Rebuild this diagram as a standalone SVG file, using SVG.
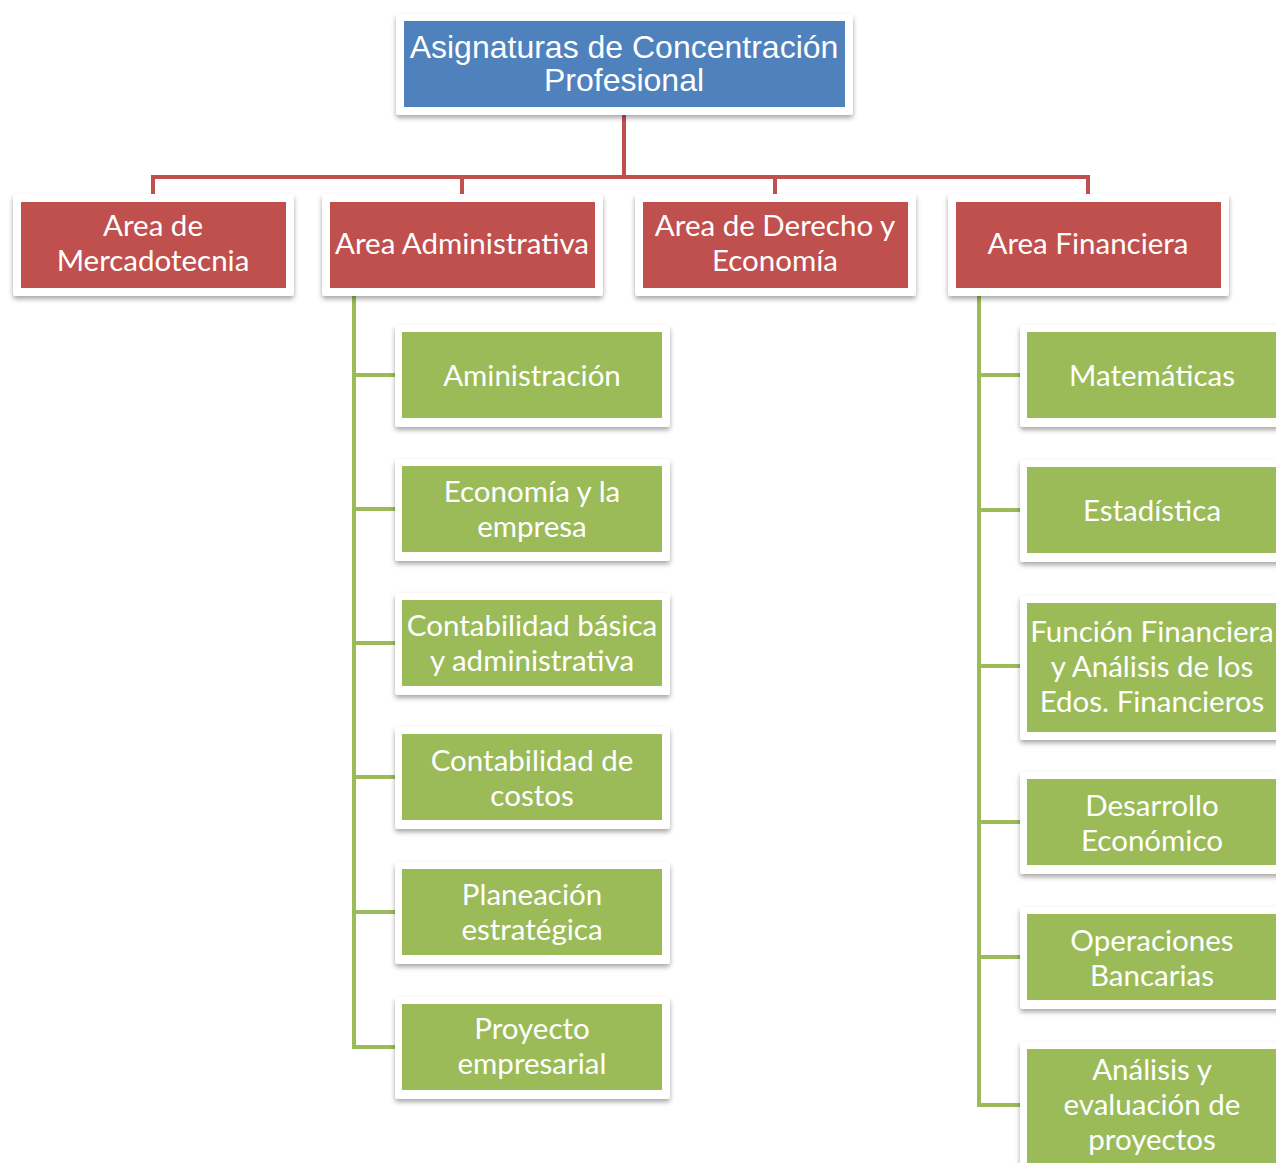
<svg xmlns="http://www.w3.org/2000/svg" width="1276" height="1163" viewBox="0 0 1276 1163">
<style>
.frame{fill:#fff;filter:url(#sh)}
.blue{fill:#4F81BD}
.red{fill:#C0504D}
.green{fill:#9BBB59}
.t{font-family:Lato,"Open Sans",sans-serif;font-size:29.5px;fill:#fff;text-anchor:middle}
.tt{font-family:"Liberation Sans",Arial,sans-serif;font-size:32px;fill:#fff;text-anchor:middle}
.cr{fill:none;stroke:#C0504D;stroke-width:4}
.cg{fill:none;stroke:#9BBB59;stroke-width:4}
</style>
<defs>
<filter id="sh" x="-10%" y="-10%" width="120%" height="130%">
<feDropShadow dx="0" dy="3" stdDeviation="2.5" flood-color="#000" flood-opacity="0.35"/>
</filter>
</defs>
<rect width="1276" height="1163" fill="#fff"/>
<g id="connectors">
<path class="cr" d="M624 115V177M153 195V177H1088V195M462 177V195M775 177V195"/>
<path class="cg" d="M354 296V1047H395M354 375H395M354 509H395M354 643H395M354 777H395M354 912H395"/>
<path class="cg" d="M979 296V1105H1020M979 375H1020M979 510H1020M979 666H1020M979 822H1020M979 957H1020"/>
</g>
<g id="root">
<rect class="frame" x="396" y="14" width="457" height="101" rx="3"/>
<rect class="blue" x="404" y="21" width="441" height="86"/>
<text class="tt" x="624" y="58">Asignaturas de Concentración</text>
<text class="tt" x="624" y="91">Profesional</text>
</g>
<g id="mercadotecnia">
<rect class="frame" x="13" y="194" width="281" height="102" rx="3"/>
<rect class="red" x="21" y="202" width="265" height="86"/>
<text class="t" x="153" y="236">Area de</text>
<text class="t" x="153" y="271">Mercadotecnia</text>
</g>
<g id="administrativa">
<rect class="frame" x="322" y="194" width="281" height="102" rx="3"/>
<rect class="red" x="330" y="202" width="265" height="86"/>
<text class="t" x="462" y="254">Area Administrativa</text>
</g>
<g id="derecho">
<rect class="frame" x="635" y="194" width="281" height="102" rx="3"/>
<rect class="red" x="643" y="202" width="265" height="86"/>
<text class="t" x="775" y="236">Area de Derecho y</text>
<text class="t" x="775" y="271">Economía</text>
</g>
<g id="financiera">
<rect class="frame" x="948" y="194" width="281" height="102" rx="3"/>
<rect class="red" x="956" y="202" width="265" height="86"/>
<text class="t" x="1088" y="254">Area Financiera</text>
</g>
<g id="aministracion">
<rect class="frame" x="395" y="325" width="275" height="102" rx="3"/>
<rect class="green" x="402" y="332" width="260" height="86"/>
<text class="t" x="532" y="386">Aministración</text>
</g>
<g id="economia">
<rect class="frame" x="395" y="459" width="275" height="102" rx="3"/>
<rect class="green" x="402" y="466" width="260" height="86"/>
<text class="t" x="532" y="502">Economía y la</text>
<text class="t" x="532" y="537">empresa</text>
</g>
<g id="contabilidad-basica">
<rect class="frame" x="395" y="593" width="275" height="102" rx="3"/>
<rect class="green" x="402" y="600" width="260" height="86"/>
<text class="t" x="532" y="636">Contabilidad básica</text>
<text class="t" x="532" y="671">y administrativa</text>
</g>
<g id="contabilidad-costos">
<rect class="frame" x="395" y="727" width="275" height="102" rx="3"/>
<rect class="green" x="402" y="734" width="260" height="86"/>
<text class="t" x="532" y="771">Contabilidad de</text>
<text class="t" x="532" y="806">costos</text>
</g>
<g id="planeacion">
<rect class="frame" x="395" y="862" width="275" height="102" rx="3"/>
<rect class="green" x="402" y="869" width="260" height="86"/>
<text class="t" x="532" y="905">Planeación</text>
<text class="t" x="532" y="940">estratégica</text>
</g>
<g id="proyecto">
<rect class="frame" x="395" y="997" width="275" height="102" rx="3"/>
<rect class="green" x="402" y="1004" width="260" height="86"/>
<text class="t" x="532" y="1039">Proyecto</text>
<text class="t" x="532" y="1074">empresarial</text>
</g>
<g id="matematicas">
<rect class="frame" x="1020" y="325" width="270" height="102" rx="3"/>
<rect class="green" x="1027" y="332" width="255" height="86"/>
<text class="t" x="1152" y="386">Matemáticas</text>
</g>
<g id="estadistica">
<rect class="frame" x="1020" y="460" width="270" height="102" rx="3"/>
<rect class="green" x="1027" y="467" width="255" height="86"/>
<text class="t" x="1152" y="521">Estadística</text>
</g>
<g id="funcion">
<rect class="frame" x="1020" y="596" width="270" height="144" rx="3"/>
<rect class="green" x="1027" y="603" width="255" height="129"/>
<text class="t" x="1152" y="642">Función Financiera</text>
<text class="t" x="1152" y="677">y Análisis de los</text>
<text class="t" x="1152" y="712">Edos. Financieros</text>
</g>
<g id="desarrollo">
<rect class="frame" x="1020" y="772" width="270" height="102" rx="3"/>
<rect class="green" x="1027" y="779" width="255" height="86"/>
<text class="t" x="1152" y="816">Desarrollo</text>
<text class="t" x="1152" y="851">Económico</text>
</g>
<g id="operaciones">
<rect class="frame" x="1020" y="907" width="270" height="102" rx="3"/>
<rect class="green" x="1027" y="914" width="255" height="86"/>
<text class="t" x="1152" y="951">Operaciones</text>
<text class="t" x="1152" y="986">Bancarias</text>
</g>
<g id="analisis">
<rect class="frame" x="1020" y="1042" width="270" height="144" rx="3"/>
<rect class="green" x="1027" y="1049" width="255" height="129"/>
<text class="t" x="1152" y="1080">Análisis y</text>
<text class="t" x="1152" y="1115">evaluación de</text>
<text class="t" x="1152" y="1150">proyectos</text>
</g>
</svg>
